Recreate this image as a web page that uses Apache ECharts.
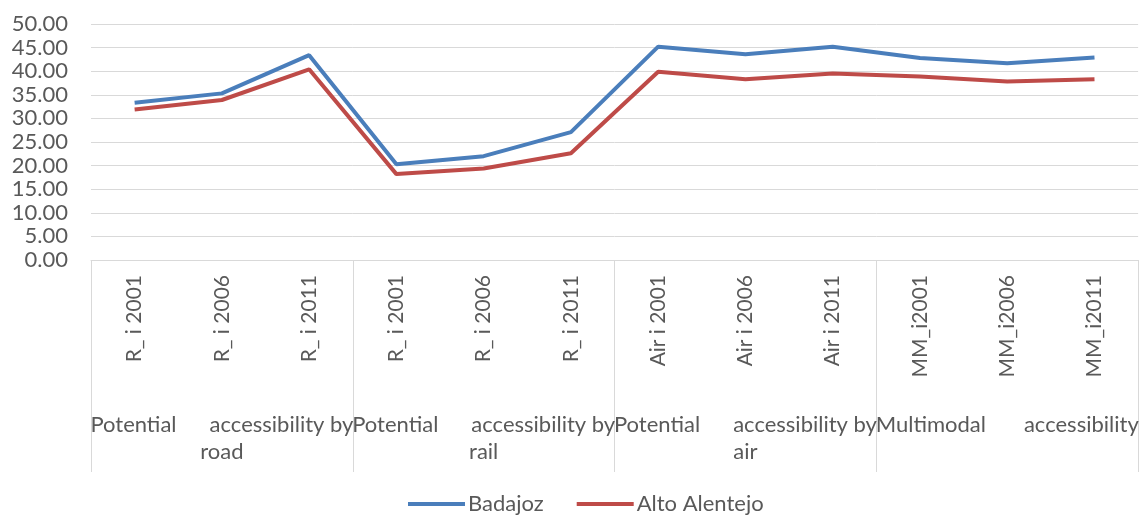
<!DOCTYPE html>
<html>
<head>
<meta charset="utf-8">
<script src="https://cdn.jsdelivr.net/npm/echarts@6/dist/echarts.min.js"></script>
<style>
html,body{margin:0;padding:0;background:#fff;}
#chart{width:1140px;height:522px;}
</style>
</head>
<body>
<div id="chart"></div>
<script>
var categories = ['R_ i 2001','R_ i 2006','R_ i 2011','R_ i 2001','R_ i 2006','R_ i 2011','Air i 2001','Air i 2006','Air i 2011','MM_i2001','MM_i2006','MM_i2011'];
var groupLeft = ['Potential','Potential','Potential','Multimodal'];
var groupRight = ['accessibility by','accessibility by','accessibility by','accessibility'];
var groupSecond = ['road','rail','air',''];
var badajoz = [33.3, 35.3, 43.4, 20.3, 22.0, 27.1, 45.2, 43.6, 45.2, 42.8, 41.7, 42.9];
var altoAlentejo = [31.9, 33.9, 40.4, 18.2, 19.4, 22.6, 39.9, 38.3, 39.5, 38.9, 37.8, 38.3];
var yTicks = {min: 0, max: 50, interval: 5};

var FONT = 'Lato';
var GRAY = '#595959';
var LINEC = '#d9d9d9';
var groups = groupLeft.map(function(g, i){ return String(i); });

var chart = echarts.init(document.getElementById('chart'));
chart.setOption({
  animation: false,
  textStyle: {fontFamily: FONT},
  grid: {left: 91, top: 24, width: 1061, height: 236, containLabel: false},
  legend: {
    left: 403, top: 488,
    icon: 'rect', itemWidth: 57, itemHeight: 4, itemGap: 33,
    textStyle: {fontFamily: FONT, fontSize: 22, color: GRAY, padding: [0,0,0,-2]},
    data: ['Badajoz', 'Alto Alentejo']
  },
  xAxis: [{
    type: 'category', data: categories, boundaryGap: true,
    axisLine: {lineStyle: {color: LINEC, width: 1}},
    axisTick: {show: false},
    axisLabel: {interval: 0, rotate: 90, margin: 15, fontSize: 21, color: GRAY, fontFamily: FONT}
  }, {
    type: 'category', data: groups, boundaryGap: true, position: 'bottom',
    axisLine: {show: false},
    axisTick: {show: true, length: 212, interval: 0, lineStyle: {color: LINEC, width: 1}},
    axisLabel: {
      interval: 0, margin: 151, color: GRAY, fontFamily: FONT, fontSize: 22,
      formatter: function(v){
        var i = +v;
        return '{a|' + groupLeft[i] + '}{b|' + groupRight[i] + '}\n{c|' + (groupSecond[i] || ' ') + '}';
      },
      rich: {
        a: {fontSize: 22, color: GRAY, fontFamily: FONT, width: 100, align: 'left', lineHeight: 27},
        b: {fontSize: 22, color: GRAY, fontFamily: FONT, width: 163, align: 'right', lineHeight: 27},
        c: {fontSize: 22, color: GRAY, fontFamily: FONT, width: 263, align: 'center', lineHeight: 27}
      }
    }
  }],
  yAxis: {
    type: 'value', min: yTicks.min, max: yTicks.max, interval: yTicks.interval,
    axisLine: {show: false}, axisTick: {show: false},
    splitLine: {lineStyle: {color: LINEC, width: 1}},
    axisLabel: {margin: 23, fontSize: 22, color: GRAY, fontFamily: FONT,
      formatter: function(v){ return v.toFixed(2); }}
  },
  series: [{
    name: 'Badajoz', type: 'line', data: badajoz, symbol: 'none',
    lineStyle: {width: 4, color: '#4a7ebb'}, itemStyle: {color: '#4a7ebb'}
  }, {
    name: 'Alto Alentejo', type: 'line', data: altoAlentejo, symbol: 'none',
    lineStyle: {width: 4, color: '#be4b48'}, itemStyle: {color: '#be4b48'}
  }]
});
</script>
</body>
</html>
